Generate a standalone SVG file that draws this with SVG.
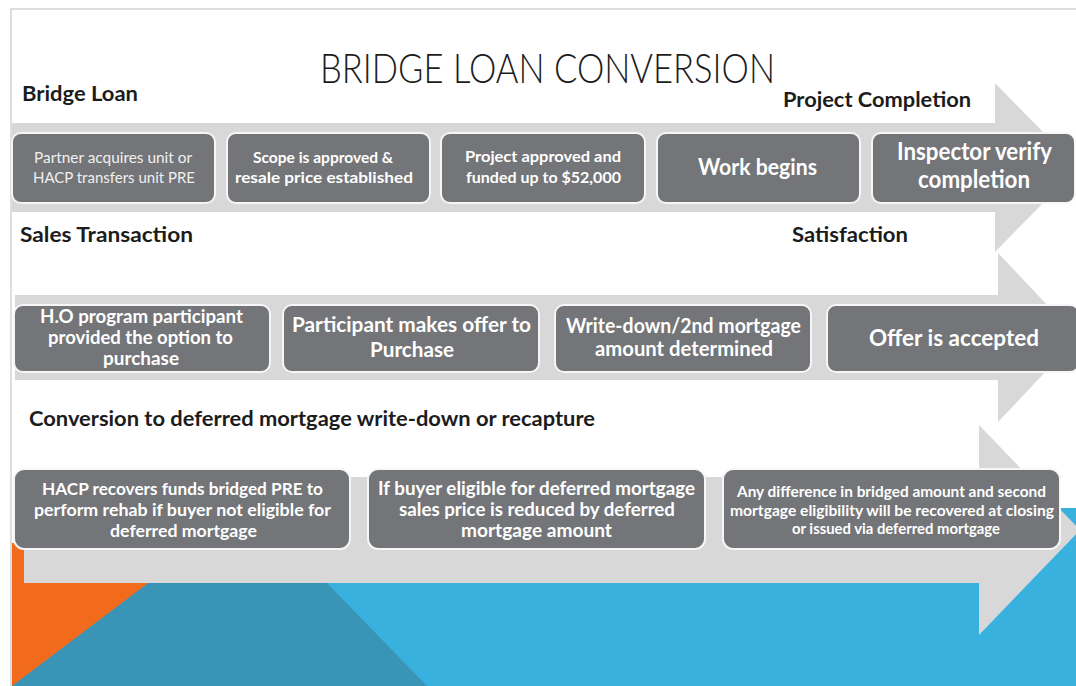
<svg xmlns="http://www.w3.org/2000/svg" width="1076" height="686" viewBox="0 0 1076 686">
  <style>
    text { font-family: Lato, "Open Sans", "Liberation Sans", sans-serif; }
    .title { font-size: 41px; font-weight: 300; fill: #1c1c1c; }
    .head { font-size: 20px; font-weight: bold; fill: #1c1c1c; }
    .box { fill: #737578; stroke: #f6f6f6; stroke-width: 2; }
    .lbl { font-weight: bold; fill: #ffffff; }
    .lbl-reg { font-weight: normal; fill: #f0f0f0; }
    .band { fill: #d8d8d8; }
  </style>

  <!-- page -->
  <rect x="0" y="0" width="1076" height="686" fill="#ffffff"/>
  <rect x="11" y="9" width="1070" height="682" fill="#ffffff" stroke="#d4d4d4" stroke-width="1.5"/>

  <!-- decorative footer shapes -->
  <g id="footer">
    <polygon points="24,508 1076,508 1076,686 12,686 12,543 24,543" fill="#39b1df"/>
    <polygon points="24,508 254,508 427,686 12,686 12,543 24,543" fill="#3a94b6"/>
    <polygon points="12,543 201,543 12,686" fill="#f26b1d"/>
  </g>

  <!-- flow bands -->
  <g id="connectors">
    <polygon class="band" points="12,123 995,123 995,83 1078,167.5 995,252 995,212 12,212"/>
    <polygon class="band" points="15,295 998,295 998,253 1078,337.5 998,422 998,380 15,380"/>
    <polygon class="band" points="24,477 979,477 979,425 1080,530 979,635 979,583 24,583"/>
  </g>

  <text class="title" x="320" y="83" textLength="455" lengthAdjust="spacingAndGlyphs">BRIDGE LOAN CONVERSION</text>

  <g id="headings">
    <text class="head" x="22" y="101" textLength="116" lengthAdjust="spacingAndGlyphs">Bridge Loan</text>
    <text class="head" x="783" y="107" textLength="188" lengthAdjust="spacingAndGlyphs">Project Completion</text>
    <text class="head" x="20" y="242" textLength="173" lengthAdjust="spacingAndGlyphs">Sales Transaction</text>
    <text class="head" x="792" y="242" textLength="116" lengthAdjust="spacingAndGlyphs">Satisfaction</text>
    <text class="head" x="29" y="426" style="font-size:21px" textLength="566" lengthAdjust="spacingAndGlyphs">Conversion to deferred mortgage write-down or recapture</text>
  </g>

  <!-- row 1: bridge loan -->
  <g id="n-acquire">
    <rect class="box" x="12" y="133" width="203" height="70" rx="9"/>
    <text class="lbl-reg" x="34" y="163" style="font-size:15px" textLength="158" lengthAdjust="spacingAndGlyphs">Partner  acquires unit or</text>
    <text class="lbl-reg" x="33" y="183" style="font-size:15px" textLength="162" lengthAdjust="spacingAndGlyphs">HACP transfers unit PRE</text>
  </g>
  <g id="n-scope">
    <rect class="box" x="227" y="133" width="203" height="70" rx="9"/>
    <text class="lbl" x="253" y="163" style="font-size:15px" textLength="140" lengthAdjust="spacingAndGlyphs">Scope is approved &amp;</text>
    <text class="lbl" x="235" y="183" style="font-size:15px" textLength="178" lengthAdjust="spacingAndGlyphs">resale price established</text>
  </g>
  <g id="n-funded">
    <rect class="box" x="441" y="133" width="204" height="70" rx="9"/>
    <text class="lbl" x="465" y="162" style="font-size:15px" textLength="156" lengthAdjust="spacingAndGlyphs">Project approved and</text>
    <text class="lbl" x="466" y="183" style="font-size:15px" textLength="155" lengthAdjust="spacingAndGlyphs">funded up to $52,000</text>
  </g>
  <g id="n-work">
    <rect class="box" x="657" y="133" width="203" height="70" rx="9"/>
    <text class="lbl" x="698" y="175" style="font-size:22px" textLength="119" lengthAdjust="spacingAndGlyphs">Work begins</text>
  </g>
  <g id="n-inspect">
    <rect class="box" x="872" y="133" width="203" height="70" rx="9"/>
    <text class="lbl" x="897" y="160" style="font-size:25px" textLength="155" lengthAdjust="spacingAndGlyphs">Inspector verify</text>
    <text class="lbl" x="918" y="188" style="font-size:25px" textLength="112" lengthAdjust="spacingAndGlyphs">completion</text>
  </g>

  <!-- row 2: sales transaction -->
  <g id="n-option">
    <rect class="box" x="14" y="305" width="256" height="67" rx="9"/>
    <text class="lbl" x="40" y="323" style="font-size:18px" textLength="203" lengthAdjust="spacingAndGlyphs">H.O program participant</text>
    <text class="lbl" x="48" y="344" style="font-size:18px" textLength="185" lengthAdjust="spacingAndGlyphs">provided the option to</text>
    <text class="lbl" x="103" y="365" style="font-size:18px" textLength="76" lengthAdjust="spacingAndGlyphs">purchase</text>
  </g>
  <g id="n-offer">
    <rect class="box" x="283" y="305" width="256" height="67" rx="9"/>
    <text class="lbl" x="292" y="332" style="font-size:21px" textLength="239" lengthAdjust="spacingAndGlyphs">Participant makes offer to</text>
    <text class="lbl" x="370" y="357" style="font-size:21px" textLength="84" lengthAdjust="spacingAndGlyphs">Purchase</text>
  </g>
  <g id="n-writedown">
    <rect class="box" x="555" y="305" width="256" height="67" rx="9"/>
    <text class="lbl" x="566" y="333" style="font-size:20px" textLength="235" lengthAdjust="spacingAndGlyphs">Write-down/2nd mortgage</text>
    <text class="lbl" x="595" y="356" style="font-size:20px" textLength="178" lengthAdjust="spacingAndGlyphs">amount determined</text>
  </g>
  <g id="n-accepted">
    <rect class="box" x="827" y="305" width="252" height="67" rx="9"/>
    <text class="lbl" x="869" y="346" style="font-size:22px" textLength="170" lengthAdjust="spacingAndGlyphs">Offer is accepted</text>
  </g>

  <!-- row 3: conversion -->
  <g id="n-recover">
    <rect class="box" x="14" y="469" width="336" height="80" rx="10"/>
    <text class="lbl" x="42" y="495" style="font-size:17px" textLength="281" lengthAdjust="spacingAndGlyphs">HACP recovers funds bridged PRE to</text>
    <text class="lbl" x="34" y="516" style="font-size:17px" textLength="297" lengthAdjust="spacingAndGlyphs">perform rehab if buyer not eligible for</text>
    <text class="lbl" x="110" y="537" style="font-size:17px" textLength="147" lengthAdjust="spacingAndGlyphs">deferred mortgage</text>
  </g>
  <g id="n-reduced">
    <rect class="box" x="368" y="469" width="337" height="80" rx="10"/>
    <text class="lbl" x="378" y="495" style="font-size:18px" textLength="317" lengthAdjust="spacingAndGlyphs">If buyer eligible for deferred mortgage</text>
    <text class="lbl" x="399" y="516" style="font-size:18px" textLength="276" lengthAdjust="spacingAndGlyphs">sales price is reduced by deferred</text>
    <text class="lbl" x="461" y="537" style="font-size:18px" textLength="151" lengthAdjust="spacingAndGlyphs">mortgage amount</text>
  </g>
  <g id="n-difference">
    <rect class="box" x="723" y="469" width="337" height="80" rx="10"/>
    <text class="lbl" x="737" y="497" style="font-size:15px" textLength="309" lengthAdjust="spacingAndGlyphs">Any difference in bridged amount and second</text>
    <text class="lbl" x="730" y="516" style="font-size:15px" textLength="324" lengthAdjust="spacingAndGlyphs">mortgage eligibility will be recovered at closing</text>
    <text class="lbl" x="792" y="534" style="font-size:15px" textLength="208" lengthAdjust="spacingAndGlyphs">or issued via deferred mortgage</text>
  </g>
</svg>
